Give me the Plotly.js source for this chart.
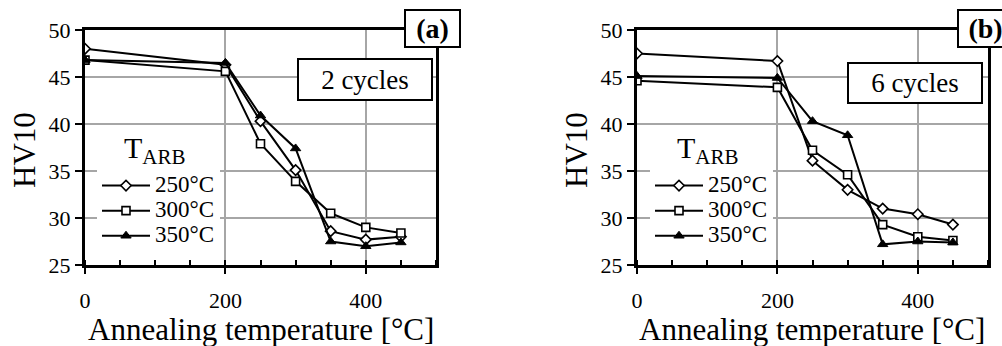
<!DOCTYPE html>
<html>
<head>
<meta charset="utf-8">
<script src="https://cdn.plot.ly/plotly-3.0.1.min.js"></script>
<style>html,body{margin:0;padding:0;background:#fff;}#chart{width:1002px;height:346px;}</style>
</head>
<body>
<div id="chart"></div>
<script>
// Annealing temperatures [°C]
var temps = [0, 200, 250, 300, 350, 400, 450];
// Panel (a): 2 cycles, HV10
var a250 = [48.0, 46.3, 40.3, 35.1, 28.6, 27.7, 28.0];
var a300 = [46.8, 45.6, 37.9, 33.9, 30.5, 29.0, 28.4];
var a350 = [46.8, 46.5, 40.9, 37.4, 27.5, 27.0, 27.4];
// Panel (b): 6 cycles, HV10
var b250 = [47.5, 46.7, 36.1, 33.0, 31.0, 30.4, 29.3];
var b300 = [44.6, 43.9, 37.2, 34.6, 29.3, 28.0, 27.6];
var b350 = [45.1, 44.9, 40.3, 38.8, 27.2, 27.5, 27.4];
var seriesNames = ['250°C', '300°C', '350°C'];
var xTicks = [0, 200, 400];
var yTicks = [25, 30, 35, 40, 45, 50];
var xTitle = 'Annealing temperature [°C]';
var yTitle = 'HV10';

var FONT = "'Liberation Serif', 'Times New Roman', serif";
var markerStyles = [
  {symbol: 'diamond', size: 8, color: '#ffffff', line: {color: '#000', width: 1.6}},
  {symbol: 'square', size: 8, color: '#ffffff', line: {color: '#000', width: 1.6}},
  {symbol: 'triangle-up', size: 9, color: '#000000', line: {color: '#000', width: 1}}
];

function mk(y, i, xa, ya, leg) {
  return {
    x: temps, y: y, type: 'scatter', mode: 'lines+markers',
    name: '<span style="font-size:23px">' + seriesNames[i] + '</span>',
    xaxis: xa, yaxis: ya, legend: leg,
    line: {color: '#000', width: 2},
    marker: markerStyles[i]
  };
}

var data = [
  mk(a250, 0, 'x', 'y', 'legend'),
  mk(a300, 1, 'x', 'y', 'legend'),
  mk(a350, 2, 'x', 'y', 'legend'),
  mk(b250, 0, 'x2', 'y2', 'legend2'),
  mk(b300, 1, 'x2', 'y2', 'legend2'),
  mk(b350, 2, 'x2', 'y2', 'legend2')
];

function xax(dom, anchor) {
  return {
    domain: dom, anchor: anchor, range: [0, 500],
    tickvals: xTicks, ticks: 'outside', ticklen: 6, tickwidth: 2, tickcolor: '#000',
    minor: {dtick: 50, ticks: 'inside', ticklen: 5, tickwidth: 2, tickcolor: '#000', showgrid: false},
    showgrid: true, gridcolor: '#a6a6a6', gridwidth: 2,
    showline: true, linecolor: '#000', linewidth: 3, mirror: true,
    zeroline: false, ticklabelstandoff: 8,
    tickfont: {family: FONT, size: 22, color: '#000'},
    automargin: false, fixedrange: true
  };
}
function yax(dom, anchor) {
  return {
    domain: dom, anchor: anchor, range: [25, 50],
    tickvals: yTicks, ticks: 'outside', ticklen: 7, tickwidth: 2, tickcolor: '#000',
    showgrid: true, gridcolor: '#a6a6a6', gridwidth: 2,
    showline: true, linecolor: '#000', linewidth: 3, mirror: true,
    zeroline: false,
    tickfont: {family: FONT, size: 22, color: '#000'},
    automargin: false, fixedrange: true
  };
}

var yDom = [1 - 265 / 346, 1 - 30 / 346];
function legendCfg(xpx) {
  return {
    x: xpx / 1002, y: 1 - 168 / 346, xanchor: 'left', yanchor: 'top',
    xref: 'paper', yref: 'paper',
    bgcolor: '#ffffff', borderwidth: 0,
    font: {family: FONT, size: 17, color: '#000'},
    itemwidth: 48, tracegroupgap: 0
  };
}

function boxAnn(text, xc, yc, w, h, size, bold) {
  return {
    xref: 'paper', yref: 'paper', x: xc / 1002, y: 1 - yc / 346,
    xanchor: 'center', yanchor: 'middle', showarrow: false,
    text: bold ? '<b>' + text + '</b>' : text,
    font: {family: FONT, size: size, color: '#000'},
    bgcolor: '#ffffff', bordercolor: '#000', borderwidth: 2,
    width: w, height: h, align: 'center', valign: 'middle'
  };
}
function textAnn(text, xc, yc, size, angle) {
  return {
    xref: 'paper', yref: 'paper', x: xc / 1002, y: 1 - yc / 346,
    xanchor: 'center', yanchor: 'middle', showarrow: false,
    text: text, textangle: angle || 0,
    font: {family: FONT, size: size, color: '#000'}
  };
}

var layout = {
  width: 1002, height: 346,
  margin: {l: 0, r: 0, t: 0, b: 0},
  paper_bgcolor: '#fff', plot_bgcolor: '#fff',
  font: {family: FONT},
  showlegend: true,
  xaxis: xax([85 / 1002, 436 / 1002], 'y'),
  yaxis: yax(yDom, 'x'),
  xaxis2: xax([637 / 1002, 988 / 1002], 'y2'),
  yaxis2: yax(yDom, 'x2'),
  legend: legendCfg(97),
  legend2: legendCfg(650),
  annotations: [
    boxAnn('(a)', 432.5, 28.5, 51, 33, 28, true),
    boxAnn('(b)', 985.5, 28.5, 51, 33, 28, true),
    boxAnn('2 cycles', 365, 79.5, 130, 37, 27, false),
    boxAnn('6 cycles', 915, 83, 130, 36, 27, false),
    textAnn('T<sub>ARB</sub>', 155, 150, 30),
    textAnn('T<sub>ARB</sub>', 708, 150, 30),
    textAnn(xTitle, 260.5, 329, 31),
    textAnn(xTitle, 812, 329, 31),
    textAnn(yTitle, 25, 150, 31, -90),
    textAnn(yTitle, 577, 150, 31, -90)
  ]
};

Plotly.newPlot('chart', data, layout, {displayModeBar: false, staticPlot: true});
</script>
</body>
</html>
